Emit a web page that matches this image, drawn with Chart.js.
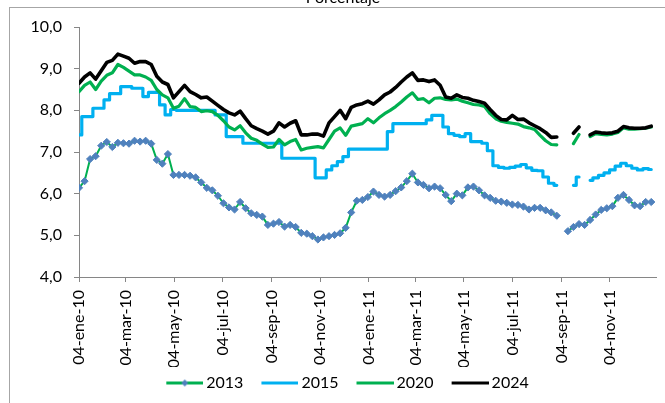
<!DOCTYPE html>
<html><head><meta charset="utf-8">
<script src="https://cdn.jsdelivr.net/npm/chart.js@4/dist/chart.umd.min.js"></script>
<style>html,body{margin:0;padding:0;background:#fff}canvas{display:block}</style>
</head><body>
<canvas id="c" width="665" height="403"></canvas>
<script>
const titleText = 'Porcentaje';
const seriesNames = ['2013', '2015', '2020', '2024'];
const startDate = '2010-01-04';
const stepDays = 7;
const axisEndDate = '2012-01-01';
const tickLabels = ['04-ene-10','04-mar-10','04-may-10','04-jul-10','04-sep-10','04-nov-10',
                    '04-ene-11','04-mar-11','04-may-11','04-jul-11','04-sep-11','04-nov-11'];
const tickDates = ['2010-01-04','2010-03-04','2010-05-04','2010-07-04','2010-09-04','2010-11-04',
                   '2011-01-04','2011-03-04','2011-05-04','2011-07-04','2011-09-04','2011-11-04'];

const s2013 = [6.14, 6.30, 6.83, 6.90, 7.15, 7.24, 7.12, 7.22, 7.21, 7.20,
 7.27, 7.25, 7.27, 7.20, 6.81, 6.72, 6.95, 6.45, 6.45, 6.45,
 6.43, 6.39, 6.27, 6.14, 6.08, 5.95, 5.77, 5.67, 5.62, 5.80,
 5.65, 5.53, 5.49, 5.45, 5.25, 5.28, 5.32, 5.21, 5.25, 5.20,
 5.06, 5.04, 4.98, 4.90, 4.95, 4.98, 5.01, 5.05, 5.18, 5.55,
 5.83, 5.85, 5.92, 6.05, 5.97, 5.93, 5.97, 6.06, 6.15, 6.30,
 6.48, 6.27, 6.21, 6.13, 6.17, 6.13, 5.97, 5.82, 6.00, 5.96,
 6.15, 6.17, 6.08, 5.96, 5.90, 5.83, 5.81, 5.78, 5.74, 5.73,
 5.69, 5.62, 5.66, 5.66, 5.60, 5.55, 5.47, null, 5.10, 5.20,
 5.27, 5.25, 5.37, 5.50, 5.61, 5.65, 5.70, 5.90, 5.97, 5.85,
 5.72, 5.70, 5.80, 5.80];

const s2015 = [7.41, 7.85, 7.85, 8.05, 8.05, 8.25, 8.40, 8.40, 8.57, 8.57,
 8.53, 8.53, 8.33, 8.43, 8.43, 8.13, 7.89, 8.02, 8.00, 8.00,
 8.00, 8.00, 8.00, 8.00, 8.00, 7.89, 7.89, 7.37, 7.37, 7.37,
 7.21, 7.21, 7.21, 7.21, 7.21, 7.21, 7.21, 6.85, 6.85, 6.85,
 6.85, 6.85, 6.85, 6.38, 6.38, 6.57, 6.67, 6.77, 6.89, 7.07,
 7.07, 7.07, 7.07, 7.07, 7.07, 7.07, 7.49, 7.68, 7.68, 7.68,
 7.68, 7.68, 7.68, 7.77, 7.88, 7.88, 7.60, 7.44, 7.40, 7.37,
 7.44, 7.25, 7.25, 7.21, 7.03, 6.67, 6.63, 6.61, 6.63, 6.66,
 6.70, 6.62, 6.56, 6.55, 6.40, 6.25, 6.20, null, null, 6.20,
 6.40, null, 6.32, 6.38, 6.44, 6.50, 6.57, 6.66, 6.73, 6.67,
 6.61, 6.57, 6.60, 6.58];

const s2020 = [8.45, 8.60, 8.68, 8.50, 8.70, 8.84, 8.90, 9.10, 9.03, 8.94,
 8.85, 8.85, 8.80, 8.72, 8.50, 8.37, 8.30, 8.05, 8.10, 8.28,
 8.09, 8.07, 7.97, 7.99, 7.97, 7.88, 7.75, 7.60, 7.53, 7.63,
 7.46, 7.33, 7.28, 7.19, 7.11, 7.12, 7.30, 7.17, 7.25, 7.30,
 7.05, 7.09, 7.11, 7.13, 7.10, 7.30, 7.50, 7.58, 7.40, 7.62,
 7.65, 7.68, 7.80, 7.70, 7.82, 7.92, 8.00, 8.09, 8.20, 8.32,
 8.42, 8.26, 8.28, 8.18, 8.29, 8.30, 8.26, 8.25, 8.27, 8.22,
 8.18, 8.14, 8.13, 8.09, 7.92, 7.80, 7.74, 7.71, 7.69, 7.67,
 7.61, 7.58, 7.54, 7.40, 7.27, 7.18, 7.17, null, null, 7.20,
 7.42, null, 7.37, 7.44, 7.42, 7.41, 7.43, 7.47, 7.58, 7.55,
 7.55, 7.56, 7.57, 7.60];

const s2024 = [8.65, 8.80, 8.90, 8.75, 8.95, 9.15, 9.20, 9.35, 9.30, 9.25,
 9.13, 9.17, 9.17, 9.10, 8.82, 8.68, 8.62, 8.30, 8.45, 8.60,
 8.45, 8.38, 8.30, 8.32, 8.22, 8.12, 8.02, 7.94, 7.89, 7.98,
 7.80, 7.63, 7.56, 7.50, 7.43, 7.50, 7.70, 7.60, 7.69, 7.75,
 7.41, 7.41, 7.43, 7.43, 7.38, 7.70, 7.85, 8.00, 7.80, 8.07,
 8.13, 8.16, 8.22, 8.15, 8.25, 8.37, 8.44, 8.55, 8.68, 8.80,
 8.90, 8.72, 8.73, 8.69, 8.73, 8.60, 8.32, 8.29, 8.37, 8.31,
 8.29, 8.24, 8.21, 8.17, 8.02, 7.88, 7.78, 7.77, 7.88, 7.78,
 7.79, 7.70, 7.63, 7.56, 7.47, 7.35, 7.36, null, null, 7.45,
 7.60, null, 7.41, 7.48, 7.46, 7.45, 7.46, 7.50, 7.61, 7.58,
 7.57, 7.57, 7.58, 7.62];

const DAY = 86400000;
const dayOf = d => Math.round((Date.parse(d) - Date.parse(startDate)) / DAY);
const categories = s2013.map((_, i) => i * stepDays);
const tickDays = tickDates.map(dayOf);
const toPts = arr => arr.map((v, i) => ({ x: categories[i], y: v }));

// legend icon: 52px wide canvas, line sample occupies its right 37px
function makeIcon(color, diamond) {
  const c = document.createElement('canvas');
  c.width = 52; c.height = 9;
  const g = c.getContext('2d');
  g.strokeStyle = color; g.lineWidth = 3;
  g.beginPath(); g.moveTo(15, 4.5); g.lineTo(52, 4.5); g.stroke();
  if (diamond) {
    g.fillStyle = '#4F81BD';
    g.beginPath(); g.moveTo(33.5, 1); g.lineTo(37, 4.5); g.lineTo(33.5, 8); g.lineTo(30, 4.5); g.closePath(); g.fill();
  }
  return c;
}
const icons = [makeIcon('#00B050', true), makeIcon('#00B0F0'), makeIcon('#00B050'), makeIcon('#000000')];

const framePlugin = {
  id: 'frame',
  beforeDraw(chart) {
    const c = chart.ctx;
    c.save();
    c.fillStyle = '#fff'; c.fillRect(0, 0, chart.width, chart.height);
    c.strokeStyle = '#A6A6A6'; c.lineWidth = 1;
    c.strokeRect(9.5, 7.5, 700, 600);
    c.fillStyle = '#000'; c.font = '16px Lato'; c.textAlign = 'center'; c.textBaseline = 'alphabetic';
    c.fillText(titleText, 343, 3);
    c.restore();
  }
};

Chart.defaults.font.family = 'Lato';
Chart.defaults.font.size = 16;
Chart.defaults.color = '#000';

new Chart(document.getElementById('c'), {
  type: 'line',
  data: {
    datasets: [
      { label: seriesNames[0], data: toPts(s2013), borderColor: '#00B050', borderWidth: 2,
        pointStyle: 'rectRot', pointRadius: 3.6, pointBackgroundColor: '#4F81BD', pointBorderColor: '#4F81BD',
        pointBorderWidth: 1, order: 3 },
      { label: seriesNames[1], data: toPts(s2015), borderColor: '#00B0F0', borderWidth: 3.2, pointRadius: 0,
        stepped: 'middle', order: 2 },
      { label: seriesNames[2], data: toPts(s2020), borderColor: '#00B050', borderWidth: 3.2, pointRadius: 0, order: 1 },
      { label: seriesNames[3], data: toPts(s2024), borderColor: '#000000', borderWidth: 3.6, pointRadius: 0, order: 0 }
    ]
  },
  options: {
    responsive: false,
    animation: false,
    spanGaps: false,
    elements: { line: { tension: 0, borderCapStyle: 'round', borderJoinStyle: 'round' } },
    layout: { padding: { left: 29, right: 9, top: 27, bottom: 2 } },
    plugins: {
      tooltip: { enabled: false },
      title: { display: false },
      legend: {
        position: 'bottom',
        labels: {
          usePointStyle: true,
          pointStyleWidth: 42,
          padding: 8,
          font: { size: 16 },
          color: '#000',
          generateLabels: chart => chart.data.datasets.map((ds, i) => ({
            text: ds.label, pointStyle: icons[i], datasetIndex: i,
            fillStyle: 'transparent', strokeStyle: 'transparent', lineWidth: 0, hidden: false, fontColor: '#000'
          }))
        }
      }
    },
    scales: {
      x: {
        type: 'linear',
        min: 0,
        max: dayOf(axisEndDate),
        afterBuildTicks: s => { s.ticks = tickDays.map(v => ({ value: v })); },
        afterFit: s => { const lh = s.chart.legend ? s.chart.legend.height : 34; s.height = s.chart.height - 277 - lh - 2; },
        ticks: {
          autoSkip: false, minRotation: 90, maxRotation: 90, padding: 8,
          font: { size: 16 }, color: '#000',
          callback: (v) => { const k = tickDays.indexOf(v); return k >= 0 ? tickLabels[k] : ''; }
        },
        grid: { drawOnChartArea: false, drawTicks: true, tickLength: 5, color: '#868686' },
        border: { color: '#868686', width: 1 }
      },
      y: {
        min: 4, max: 10,
        afterFit: s => { s.width = 79 - 29; },
        ticks: { stepSize: 1, padding: 12, font: { size: 16 }, color: '#000',
          callback: v => v.toFixed(1).replace('.', ',') },
        grid: { drawOnChartArea: false, drawTicks: true, tickLength: 5, color: '#868686' },
        border: { color: '#868686', width: 1 }
      }
    }
  },
  plugins: [framePlugin]
});
</script>
</body></html>
